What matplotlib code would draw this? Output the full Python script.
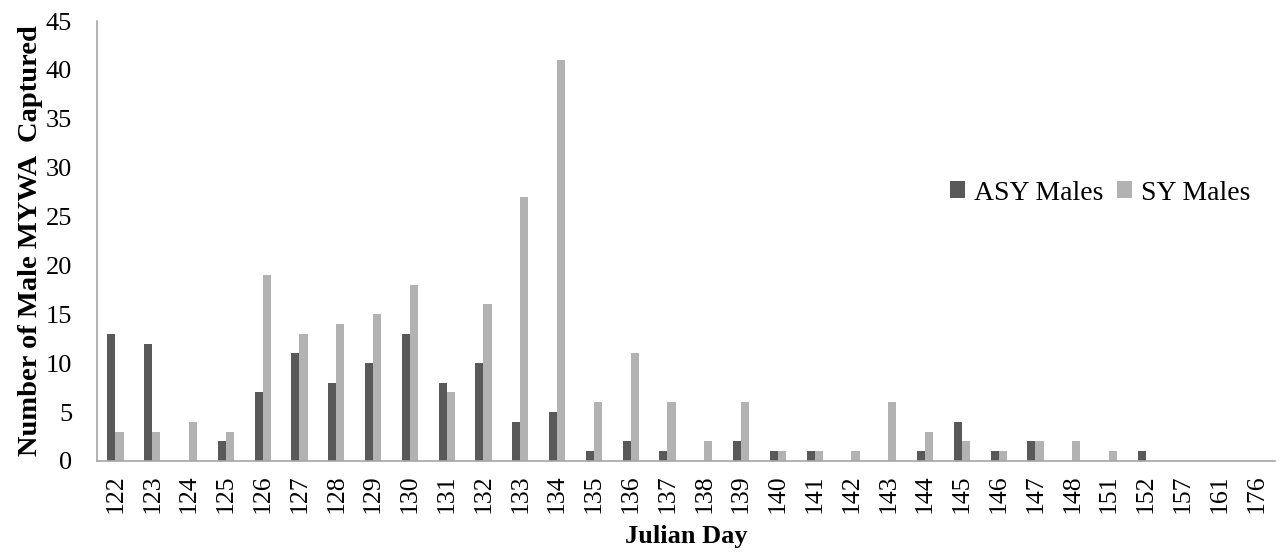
import numpy as np
import matplotlib.pyplot as plt

plt.rcParams['font.family'] = ['Liberation Serif', 'DejaVu Serif']

# Dias julianos e capturas
dias = ['122', '123', '124', '125', '126', '127', '128', '129', '130', '131',
        '132', '133', '134', '135', '136', '137', '138', '139', '140', '141',
        '142', '143', '144', '145', '146', '147', '148', '151', '152', '157',
        '161', '176']
asy_machos = [13, 12, 0, 2, 7, 11, 8, 10, 13, 8, 10, 4, 5, 1, 2, 1, 0, 2, 1, 1,
              0, 0, 1, 4, 1, 2, 0, 0, 1, 0, 0, 0]
sy_machos = [3, 3, 4, 3, 19, 13, 14, 15, 18, 7, 16, 27, 41, 6, 11, 6, 2, 6, 1, 1,
             1, 6, 3, 2, 1, 2, 2, 1, 0, 0, 0, 0]

fig = plt.figure(figsize=(12.85, 5.6), dpi=100)
ax = fig.add_axes([0.0755, 0.177, 0.9165, 0.7855])

x = np.arange(len(dias))
w = 0.22
ax.bar(x - w / 2, asy_machos, width=w, color='#595959', label='ASY Males')
ax.bar(x + w / 2, sy_machos, width=w, color='#b2b2b2', label='SY Males')

ax.set_xlim(-0.5, len(dias) - 0.5)
ax.set_ylim(0, 45)
ax.set_yticks(range(0, 46, 5))
ax.set_xticks(x)
ax.set_xticklabels(dias, rotation=90, fontsize=18.5)
ax.tick_params(axis='y', labelsize=19, length=0, pad=18)
ax.tick_params(axis='x', length=0, pad=10)

for lado in ['top', 'right']:
    ax.spines[lado].set_visible(False)
for lado in ['left', 'bottom']:
    ax.spines[lado].set_color('#a6a6a6')
    ax.spines[lado].set_linewidth(1.2)

ax.set_xlabel('Julian Day', fontsize=19, fontweight='bold', labelpad=8)
ax.set_ylabel('Number of Male MYWA  Captured', fontsize=20.5, fontweight='bold', labelpad=2)

ax.legend(loc='center', bbox_to_anchor=(1100 / 1285, 1 - 193 / 560),
          bbox_transform=fig.transFigure, frameon=False, fontsize=20,
          handlelength=0.55, handleheight=0.55, handletextpad=0.3, columnspacing=0.5,
          ncol=2)

plt.savefig('out.png', dpi=100)
